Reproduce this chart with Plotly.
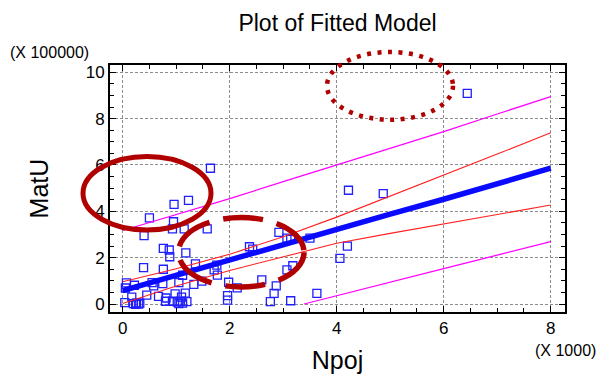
import plotly.graph_objects as go

# ---- data (Npoj in thousands, MatU in 100000s) ----
npoj = [1.64, 0.96, 1.23, 0.50, 0.95, 0.93, 1.15, 1.58, 0.40, 0.76,
        0.87, 0.88, 1.18, 0.39, 0.76, 1.36, 1.76, 1.71, 1.77, 1.12,
        2.37, 2.43, 2.92, 3.07, 3.14, 3.50, 3.07, 3.18, 2.60, 2.87,
        2.83, 2.76, 3.14, 3.63, 1.98, 1.96, 1.96, 2.14, 1.33, 1.48,
        4.06, 4.20, 4.22, 4.87, 6.44, 0.07, 0.22, 0.05, 0.55, 0.58,
        0.75, 1.05, 0.17, 0.45, 0.67, 0.81, 0.98, 1.10, 1.17, 0.04,
        0.20, 0.26, 0.32, 0.24, 0.30, 0.80, 0.93, 1.02, 1.08, 1.12,
        1.05, 1.20]
matu = [5.86, 4.30, 4.47, 3.72, 3.55, 3.24, 3.24, 3.24, 2.95, 2.40,
        2.33, 2.04, 2.21, 1.57, 1.50, 1.73, 1.68, 1.47, 1.25, 1.24,
        2.47, 2.37, 3.09, 2.84, 2.79, 2.84, 1.47, 1.65, 1.04, 0.78,
        0.46, 0.10, 0.14, 0.46, 0.94, 0.36, 0.17, 0.70, 0.85, 0.99,
        1.97, 2.50, 4.91, 4.76, 9.09, 0.91, 0.81, 0.69, 0.92, 0.78,
        0.88, 0.92, 0.30, 0.38, 0.33, 0.26, 0.44, 0.30, 0.47, 0.06,
        0.02, 0.05, 0.04, -0.02, 0.00, 0.12, 0.12, 0.08, 0.12, 0.04,
        0.02, 0.10]

fit_x = [0, 1, 2, 3, 4, 5, 6, 7, 8]
fit_y = [0.58, 1.25, 1.92, 2.58, 3.24, 3.88, 4.52, 5.18, 5.86]
conf_upper = [0.96, 1.52, 2.15, 2.90, 3.75, 4.65, 5.55, 6.47, 7.39]
conf_lower = [0.02, 0.78, 1.45, 2.05, 2.62, 3.05, 3.45, 3.86, 4.27]
pred_upper = [3.17, 3.86, 4.55, 5.28, 6.00, 6.72, 7.44, 8.20, 8.95]
pred_lower_x = [3.39, 4, 5, 6, 7, 8]
pred_lower_y = [0.00, 0.35, 0.94, 1.53, 2.11, 2.69]

x_ticks = [0, 2, 4, 6, 8]
y_ticks = [0, 2, 4, 6, 8, 10]

FONT = "Liberation Sans, Arial, sans-serif"
DARKRED = "#b00000"

fig = go.Figure()
fig.add_trace(go.Scatter(x=npoj, y=matu, mode="markers",
                         marker=dict(symbol="square-open", size=8, color="#1f1fff",
                                     line=dict(width=1.3, color="#1f1fff")),
                         showlegend=False))
fig.add_trace(go.Scatter(x=fit_x, y=pred_upper, mode="lines",
                         line=dict(color="#ff00ff", width=1.2), showlegend=False))
fig.add_trace(go.Scatter(x=pred_lower_x, y=pred_lower_y, mode="lines",
                         line=dict(color="#ff00ff", width=1.2), showlegend=False))
fig.add_trace(go.Scatter(x=fit_x, y=conf_upper, mode="lines",
                         line=dict(color="#ff2020", width=1.1), showlegend=False))
fig.add_trace(go.Scatter(x=fit_x, y=conf_lower, mode="lines",
                         line=dict(color="#ff2020", width=1.1), showlegend=False))
fig.add_trace(go.Scatter(x=fit_x, y=fit_y, mode="lines",
                         line=dict(color="#0a0aff", width=5.5), showlegend=False))

L, R, T, B = 110, 34, 65, 64
W, H = 599, 376
PW, PH = W - L - R, H - T - B


def px(x):
    return (x - L) / PW


def py(y):
    return (H - B - y) / PH


shapes = [
    dict(type="circle", xref="paper", yref="paper",
         x0=px(83), x1=px(211), y0=py(230), y1=py(156.5),
         line=dict(color=DARKRED, width=5)),
    dict(type="circle", xref="paper", yref="paper",
         x0=px(178.5), x1=px(304), y0=py(287), y1=py(217.5),
         line=dict(color=DARKRED, width=5.5, dash="40px,14px")),
    dict(type="circle", xref="paper", yref="paper",
         x0=px(327), x1=px(453), y0=py(119.7), y1=py(52),
         line=dict(color=DARKRED, width=4.5, dash="4px,6.5px")),
]

axis_common = dict(
    automargin=False,
    showline=True, linecolor="black", linewidth=2, mirror="ticks",
    ticks="inside", ticklen=6, tickwidth=1, tickcolor="black",
    showgrid=True, gridcolor="#8c8c8c", griddash="3px,2px", gridwidth=1,
    zeroline=False,
    tickfont=dict(family=FONT, size=17, color="black"),
    minor=dict(ticks="inside", ticklen=4, tickwidth=1, dtick=0.5,
               tickcolor="black", showgrid=False),
)

fig.update_layout(
    width=W, height=H,
    margin=dict(l=L, r=R, t=T, b=B, autoexpand=False),
    paper_bgcolor="white", plot_bgcolor="white",
    font=dict(family=FONT, color="black"),
    title=dict(text="Plot of Fitted Model", x=px(337.5), xref="paper", xanchor="center",
               y=1 - 23 / H, yanchor="middle",
               font=dict(family=FONT, size=23, color="black")),
    shapes=shapes,
    xaxis=dict(range=[-0.237, 8.267], tickvals=x_ticks,
               ticktext=[str(v) for v in x_ticks],
               title=dict(text="Npoj", font=dict(family=FONT, size=25), standoff=14),
               **axis_common),
    yaxis=dict(range=[-0.345, 10.315], tickvals=y_ticks,
               ticktext=[str(v) for v in y_ticks],
               title=dict(text="MatU", font=dict(family=FONT, size=25), standoff=30),
               **axis_common),
    annotations=[
        dict(text="(X 100000)", xref="paper", yref="paper", x=px(8), y=py(52),
             xanchor="left", yanchor="middle", showarrow=False,
             font=dict(family=FONT, size=16, color="black")),
        dict(text="(X 1000)", xref="paper", yref="paper", x=px(598), y=py(350),
             xanchor="right", yanchor="middle", showarrow=False,
             font=dict(family=FONT, size=16, color="black")),
    ],
)

fig.write_html("out.html", config={"displayModeBar": False},
               post_script="document.body.style.margin='0';document.body.style.padding='0';")
